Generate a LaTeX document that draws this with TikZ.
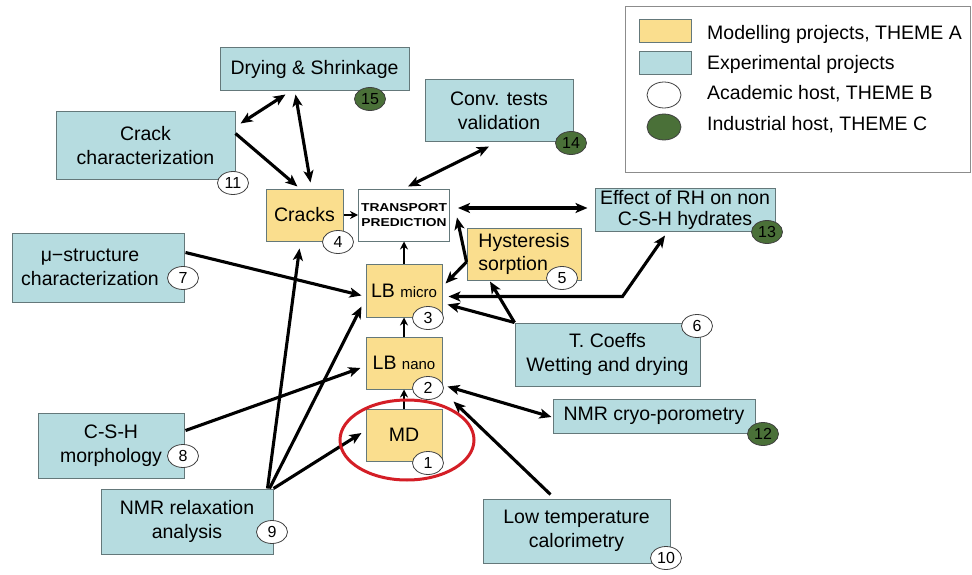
\documentclass[tikz,border=0pt]{standalone}
\usepackage{fontspec}
\setmainfont{Liberation Sans}
\usetikzlibrary{arrows.meta, calc, shapes.geometric, positioning}
\definecolor{modelyellow}{RGB}{250,222,142}
\definecolor{exptblue}{RGB}{182,220,224}
\definecolor{boxline}{RGB}{100,120,122}
\definecolor{hostgreen}{RGB}{74,112,56}
\definecolor{ringred}{RGB}{212,30,38}

\begin{document}
\begin{tikzpicture}[x=1pt, y=-1pt, >={Stealth[length=12pt, width=10pt, inset=3pt]},
    every node/.style={font=\fontsize{19.5}{24}\selectfont},
    model/.style={draw=boxline, line width=1pt, fill=modelyellow, inner sep=0pt, align=center},
    expt/.style={draw=boxline, line width=1pt, fill=exptblue, inner sep=0pt, align=center},
    acad/.style={draw=black!75, line width=0.8pt, fill=white, ellipse, minimum width=31pt, minimum height=23pt, inner sep=0pt, font=\fontsize{16}{16}\selectfont},
    indus/.style={acad, fill=hostgreen},
    link/.style={line width=3.1pt},
    short/.style={line width=2.4pt, -{Stealth[length=8pt, width=8pt]}}]
    \useasboundingbox (0,0) rectangle (972,575);

    % Modelling chain
    \node[model, minimum width=76pt, minimum height=52pt] (md) at (404,435) {MD};
    \node[model, minimum width=76pt, minimum height=52pt, node distance=72pt, above of=md] (lbnano) {LB {\fontsize{15}{15}\selectfont nano}};
    \node[model, minimum width=76pt, minimum height=53pt, node distance=72.5pt, above of=lbnano] (lbmicro) {LB {\fontsize{15}{15}\selectfont micro}};
    \node[draw=boxline, line width=1pt, fill=white, minimum width=91pt, minimum height=52pt, inner sep=0pt, align=center, font=\fontsize{11.5}{15}\selectfont\bfseries, node distance=75.5pt, above of=lbmicro] (transport) {\scalebox{1.2}[1]{TRANSPORT}\\\scalebox{1.2}[1]{PREDICTION}};
    \node[model, minimum width=77pt, minimum height=52pt] (cracks) at (304.5,215) {Cracks};
    \node[model, minimum width=114pt, minimum height=52pt, align=left, font=\fontsize{19.5}{23}\selectfont] (hyst) at (524,254) {Hysteresis\\sorption};

    % Experimental projects
    \node[expt, minimum width=189pt, minimum height=43pt] (dry) at (314.5,69.5) {Drying \& Shrinkage};
    \node[expt, minimum width=179pt, minimum height=67pt] (crackc) at (145.5,145.5) {Crack\\characterization};
    \node[expt, minimum width=148pt, minimum height=62pt] (conv) at (499,111) {Conv. tests\\validation};
    \node[expt, minimum width=172pt, minimum height=69pt] (mu) at (98,267.5) {μ−structure\hspace*{16pt}\\characterization\hspace*{16pt}};
    \node[expt, minimum width=180pt, minimum height=43pt, font=\fontsize{19.5}{21}\selectfont] (effect) at (685,209.5) {Effect of RH on non\\C-S-H hydrates};
    \node[expt, minimum width=146pt, minimum height=65pt] (morph) at (111,445.5) {C-S-H\\morphology};
    \node[expt, minimum width=172pt, minimum height=65pt] (relax) at (187,521.5) {NMR relaxation\\analysis};
    \node[expt, minimum width=185pt, minimum height=63pt] (tcoef) at (607.5,354.5) {T. Coeffs\\Wetting and drying};
    \node[expt, minimum width=202pt, minimum height=34pt] (cryo) at (654,416) {NMR cryo-porometry};
    \node[expt, minimum width=187pt, minimum height=64pt] (lowt) at (576.5,531) {Low temperature\\calorimetry};

    % Edges
    \draw[link, <->] ($(crackc.north east)+(5,12)$) -- ($(dry.south)+(-29,3)$);
    \draw[link, <->] ($(dry.south)+(-19,3)$) -- ($(cracks.north)+(6,-6)$);
    \draw[link, ->] ($(crackc.east)+(0,-12)$) -- ($(cracks.north)+(-7,-2)$);
    \draw[short] (cracks.east) -- (transport.west);
    \draw[link, <->] ($(transport.north)+(4,-2)$) -- ($(conv.south)+(-10,4)$);
    \draw[link, <->] ($(transport.east)+(8,-7)$) -- ($(effect.west)+(-7,-1.5)$);
    \draw[short] (lbmicro.north) -- (transport.south);
    \draw[link, ->] ($(hyst.west)+(0,8)$) -- ($(transport.south east)+(7,-24)$);
    \draw[link, ->] ($(hyst.west)+(0,8)$) -- ($(lbmicro.east)+(3,-7)$);
    \draw[link, <->] ($(lbmicro.east)+(6,6)$) -- ++(174,0) -- ($(effect.south)+(-20,4)$);
    \draw[link, ->] (tcoef.north west) -- ($(lbmicro.east)+(5,14)$);
    \draw[link, ->] (tcoef.north west) -- ($(hyst.south)+(-34,1)$);
    \draw[link, ->] ($(mu.east)+(1,-15)$) -- ($(lbmicro.west)+(-4,5)$);
    \draw[link, ->] ($(morph.east)+(1,-15)$) -- ($(lbnano.west)+(-5,5)$);
    \draw[link, ->] ($(relax.north east)+(-6,0)$) -- ($(cracks.south)+(-5,7)$);
    \draw[link, ->] ($(relax.north east)+(-4,0)$) -- ($(lbmicro.south west)+(-4,-11)$);
    \draw[link, ->] (relax.north east) -- ($(md.west)+(-4,-2)$);
    \draw[short] (md.north) -- (lbnano.south);
    \draw[short] (lbnano.north) -- (lbmicro.south);
    \draw[link, <->] ($(lbnano.south east)+(5,-3)$) -- ($(cryo.west)+(-1,1)$);
    \draw[link, ->] ($(lowt.north)+(-26,-4)$) -- ($(lbnano.south east)+(11,12)$);

    % Hosts
    \foreach \n/\x/\y in {1/428/463, 2/428/388, 3/428/318, 4/338/242, 5/562/278, 6/697/326, 7/183/278, 8/183/456, 9/272/532, 10/666/558, 11/233/183}
        \node[acad] (b\n) at (\x,\y) {\n};
    \foreach \n/\x/\y in {12/763/434, 13/767/232, 14/571/143, 15/370/99}
        \node[indus] (b\n) at (\x,\y) {\n};

    % Ring round MD
    \draw[ringred, line width=3pt] (407,440) ellipse [x radius=67pt, y radius=40pt];

    % Legend
    \node[draw=black!45, line width=1pt, minimum width=345pt, minimum height=166pt, inner sep=0pt] (legend) at (797.5,90) {};
    \node[model, minimum width=52pt, minimum height=23pt] (keyA) at (665,31.5) {};
    \node[expt, minimum width=52pt, minimum height=23pt] (keyexp) at (665,63.5) {};
    \node[acad, minimum width=34pt, minimum height=26pt] (keyB) at (664,95) {};
    \node[indus, minimum width=34pt, minimum height=26pt] (keyC) at (664,127) {};
    \node[anchor=base west, inner sep=0pt] (labA) at (707,40) {Modelling projects, THEME A};
    \node[anchor=base west, inner sep=0pt] (labexp) at (707,70) {Experimental projects};
    \node[anchor=base west, inner sep=0pt] (labB) at (707,100) {Academic host, THEME B};
    \node[anchor=base west, inner sep=0pt] (labC) at (707,131) {Industrial host, THEME C};
\end{tikzpicture}
\end{document}
